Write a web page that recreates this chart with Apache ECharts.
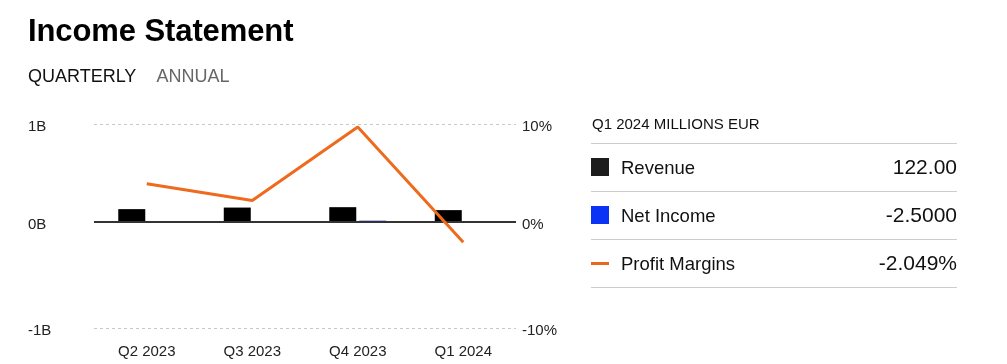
<!DOCTYPE html>
<html>
<head>
<meta charset="utf-8">
<script src="https://cdn.jsdelivr.net/npm/echarts@6/dist/echarts.min.js"></script>
<style>
  html, body { margin: 0; padding: 0; background: #fff; }
  body { width: 1007px; height: 364px; position: relative; overflow: hidden; font-family: "Liberation Sans", Arial, sans-serif; color: #111; }
  #chart { position: absolute; left: 0; top: 0; width: 1007px; height: 364px; }
  .title { position: absolute; left: 28px; top: 13px; font-size: 31px; font-weight: bold; color: #000; letter-spacing: -0.1px; }
  .tabs { position: absolute; left: 28px; top: 66px; font-size: 18px; }
  .tabs span { margin-right: 20px; }
  .tabs .off { color: #666; }
  .panel { position: absolute; left: 591px; top: 114px; width: 366px; }
  .hdr { font-size: 15px; height: 29px; line-height: 20px; padding-left: 1px; color: #111; }
  .row { position: relative; height: 47px; border-top: 1px solid #ccc; }
  .row:last-child { border-bottom: 1px solid #ccc; }
  .row .sw { position: absolute; left: 0; top: 14px; width: 18px; height: 18px; }
  .row .dash { position: absolute; left: 0; top: 22px; width: 18px; height: 3px; }
  .row .lbl { position: absolute; left: 30px; top: 13px; font-size: 18.5px; line-height: 22px; color: #111; }
  .row .val { position: absolute; right: 0; top: 11px; font-size: 21px; line-height: 24px; color: #111; }
</style>
</head>
<body>
<div id="chart"></div>
<div class="title">Income Statement</div>
<div class="tabs"><span>QUARTERLY</span><span class="off">ANNUAL</span></div>
<div class="panel" id="panel"></div>
<script>
// Data (millions EUR, margins in %)
const categories = ['Q2 2023', 'Q3 2023', 'Q4 2023', 'Q1 2024'];
const revenue = [132, 148, 152, 122];
const netIncome = [5.1, 3.3, 14.4, -2.5];
const profitMargin = [3.9, 2.2, 9.7, -2.049];
const leftTicks = [-1080, 0, 1000];
const rightTicks = [-10.8, 0, 10];
const panelTitle = 'Q1 2024 MILLIONS EUR';

const colors = { revenue: '#000000', net: '#0a33f5', margin: '#ee6a1c' };
const swatch = { revenue: '#1c1c1c', net: '#0a33f5', margin: '#e8691e' };

// Legend / value panel
const last = categories.length - 1;
const rows = [
  { name: 'Revenue', type: 'sw', color: swatch.revenue, value: revenue[last].toFixed(2) },
  { name: 'Net Income', type: 'sw', color: swatch.net, value: netIncome[last].toFixed(4) },
  { name: 'Profit Margins', type: 'dash', color: swatch.margin, value: profitMargin[last].toFixed(3) + '%' }
];
let html = '<div class="hdr">' + panelTitle + '</div>';
rows.forEach(r => {
  html += '<div class="row"><div class="' + r.type + '" style="background:' + r.color + '"></div>' +
    '<div class="lbl">' + r.name + '</div><div class="val">' + r.value + '</div></div>';
});
document.getElementById('panel').innerHTML = html;

const chart = echarts.init(document.getElementById('chart'), null, { renderer: 'canvas' });
const labelStyle = { color: '#222', fontSize: 15, fontFamily: 'Liberation Sans, Arial, sans-serif' };
chart.setOption({
  animation: false,
  grid: { left: 94, right: 491, top: 124, bottom: 36 },
  xAxis: {
    type: 'category',
    data: categories,
    axisLine: { show: false, onZero: false },
    axisTick: { show: false },
    axisLabel: Object.assign({ margin: 16 }, labelStyle),
    splitLine: { show: false }
  },
  yAxis: [
    {
      type: 'value',
      min: leftTicks[0], max: leftTicks[2], interval: -leftTicks[0],
      axisLine: { show: false }, axisTick: { show: false },
      axisLabel: Object.assign({ align: 'left', margin: 66, verticalAlign: 'top', lineHeight: 6,
        formatter: v => Math.trunc(v / 1000) + 'B' }, labelStyle),
      splitLine: { show: true, lineStyle: { color: '#c8c8c8', width: 1, type: [3, 3] } }
    },
    {
      type: 'value',
      min: rightTicks[0], max: rightTicks[2], interval: -rightTicks[0],
      axisLine: { show: false }, axisTick: { show: false },
      axisLabel: Object.assign({ align: 'left', margin: 6, verticalAlign: 'top', lineHeight: 6,
        formatter: v => Math.trunc(v) + '%' }, labelStyle),
      splitLine: { show: false }
    }
  ],
  series: [
    {
      name: 'Revenue', type: 'bar', data: revenue, barWidth: 27, barGap: '11%',
      itemStyle: { color: colors.revenue }, z: 2,
      markLine: {
        silent: true, symbol: 'none', label: { show: false },
        lineStyle: { color: '#333', width: 2, type: 'solid' },
        data: [{ yAxis: 0 }]
      }
    },
    {
      name: 'Net Income', type: 'bar', data: netIncome, barWidth: 27,
      itemStyle: { color: colors.net }, z: 2
    },
    {
      name: 'Profit Margins', type: 'line', yAxisIndex: 1, data: profitMargin,
      showSymbol: false, symbol: 'none',
      lineStyle: { color: colors.margin, width: 3 }, z: 5
    }
  ]
});
</script>
</body>
</html>
